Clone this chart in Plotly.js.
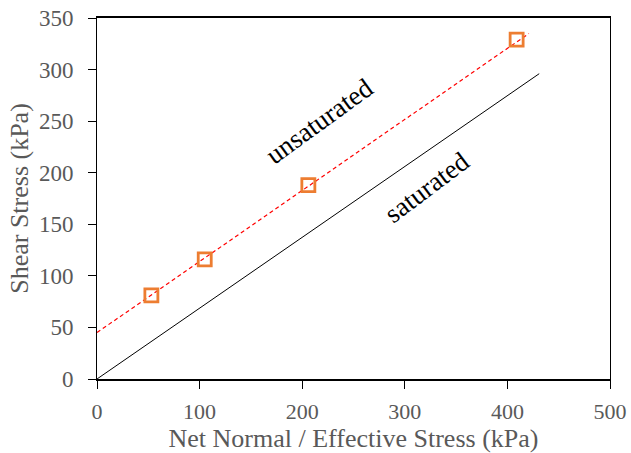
<!DOCTYPE html>
<html><head><meta charset="utf-8">
<script src="https://cdn.plot.ly/plotly-3.0.1.min.js"></script>
<style>body{margin:0;padding:0;background:#fff}#chart{width:631px;height:453px}</style>
</head><body><div id="chart"></div>
<script>
const pointsX = [53, 105, 206, 409];
const pointsY = [81, 116, 188, 329];
const unsatLineX = [0, 421];
const unsatLineY = [45, 335];
const satLineX = [0, 431];
const satLineY = [0, 296];
const labelUnsat = "unsaturated";
const labelSat = "saturated";

const traces = [
  {x: satLineX, y: satLineY, mode: 'lines', line: {color: '#000', width: 1}, hoverinfo: 'skip'},
  {x: unsatLineX, y: unsatLineY, mode: 'lines', line: {color: '#ff0000', width: 1.2, dash: '4px,3px'}, hoverinfo: 'skip'},
  {x: pointsX, y: pointsY, mode: 'markers', marker: {symbol: 'square-open', size: 13, color: '#ED7D31', line: {width: 2.8, color: '#ED7D31'}}}
];
const fam = 'Liberation Serif, Times New Roman, serif';
const fontT = {family: fam, size: 26, color: '#595959'};
const layout = {
  width: 631, height: 453,
  margin: {l: 97, r: 21, t: 18, b: 74},
  showlegend: false,
  paper_bgcolor: '#fff', plot_bgcolor: '#fff',
  xaxis: {range: [0, 500], dtick: 100, showgrid: false, zeroline: false,
    showline: true, linecolor: '#000', linewidth: 2, mirror: true,
    ticks: 'outside', ticklen: 8, tickcolor: '#000', tickwidth: 1,
    ticklabelstandoff: 4,
    tickfont: {family: fam, size: 22, color: '#595959'},
    title: {text: 'Net Normal / Effective Stress (kPa)', font: fontT, standoff: 2}},
  yaxis: {range: [0, 350], dtick: 50, showgrid: false, zeroline: false,
    showline: true, linecolor: '#000', linewidth: 1, mirror: true,
    ticks: 'outside', ticklen: 8, tickcolor: '#000', tickwidth: 1,
    ticklabelstandoff: 10,
    tickfont: {family: fam, size: 23, color: '#595959'},
    title: {text: 'Shear Stress (kPa)', font: fontT, standoff: 2}},
  annotations: [
    {x: 217, y: 250, text: labelUnsat, showarrow: false, textangle: -36,
     font: {family: fam, size: 27, color: '#000'}},
    {x: 322, y: 186, text: labelSat, showarrow: false, textangle: -37,
     font: {family: fam, size: 27, color: '#000'}}
  ]
};
Plotly.newPlot('chart', traces, layout, {displayModeBar: false, staticPlot: true});
</script></body></html>
